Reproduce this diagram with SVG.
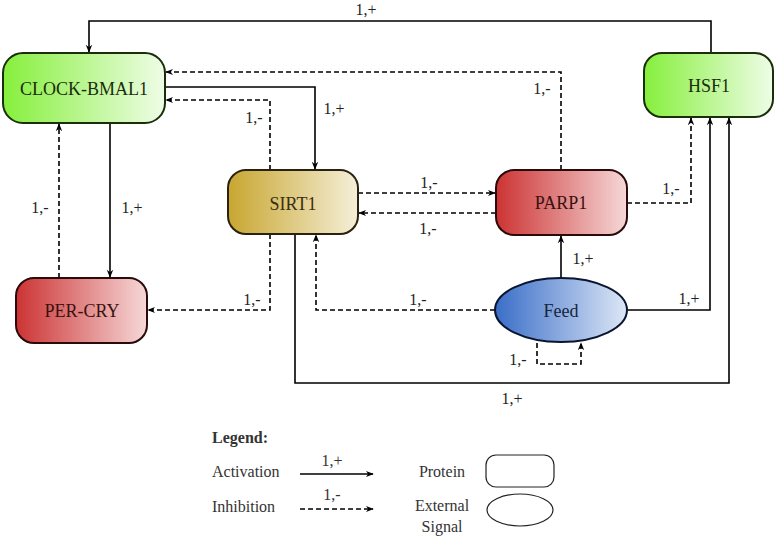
<svg xmlns="http://www.w3.org/2000/svg" width="777" height="538" viewBox="0 0 777 538">
<style>
.node text{font-family:"Liberation Serif","Times New Roman",Tinos,"DejaVu Serif","Noto Serif",FreeSerif,serif;font-size:18px;text-anchor:middle;dominant-baseline:central}
.lbl{font-family:"Liberation Serif","Times New Roman",Tinos,"DejaVu Serif","Noto Serif",FreeSerif,serif;font-size:16px;fill:#222}
.solid{fill:none;stroke:#000;stroke-width:1.6;marker-end:url(#arr)}
.dash{fill:none;stroke:#000;stroke-width:1.6;stroke-dasharray:5,3;marker-end:url(#arr)}
.leg{font-family:"Liberation Serif","Times New Roman",Tinos,"DejaVu Serif","Noto Serif",FreeSerif,serif;font-size:16px;fill:#333}
</style>
<defs>
<marker id="arr" viewBox="0 0 10 10" refX="9" refY="5" markerWidth="8" markerHeight="8" markerUnits="userSpaceOnUse" orient="auto">
<path d="M0,1 L10,5 L0,9 L3,5 Z" fill="#000"/>
</marker>
<linearGradient id="gGreen" x1="0" y1="0" x2="1" y2="0"><stop offset="0" stop-color="#86ef3c"/><stop offset="1" stop-color="#effde7"/></linearGradient>
<linearGradient id="gGold" x1="0" y1="0" x2="1" y2="0"><stop offset="0" stop-color="#c8a630"/><stop offset="1" stop-color="#f5efd8"/></linearGradient>
<linearGradient id="gRed" x1="0" y1="0" x2="1" y2="0"><stop offset="0" stop-color="#cc3333"/><stop offset="1" stop-color="#f6d8d8"/></linearGradient>
<linearGradient id="gBlue" x1="0" y1="0" x2="1" y2="0"><stop offset="0" stop-color="#3a6ec8"/><stop offset="1" stop-color="#dde7f6"/></linearGradient>
</defs>
<rect width="777" height="538" fill="#fff"/>

<g id="connectors">
<path class="solid" d="M711,53 V21 H89 V52"/>
<text class="lbl" x="366" y="15" text-anchor="middle">1,+</text>
<path class="dash" d="M561,170 V72 H166"/>
<text class="lbl" x="542" y="94" text-anchor="middle">1,-</text>
<path class="solid" d="M165,87 H315 V169"/>
<text class="lbl" x="334" y="114" text-anchor="middle">1,+</text>
<path class="dash" d="M270,170 V100 H166"/>
<text class="lbl" x="254" y="123" text-anchor="middle">1,-</text>
<path class="dash" d="M358,193 H495"/>
<text class="lbl" x="429" y="188" text-anchor="middle">1,-</text>
<path class="dash" d="M496,213 H359"/>
<text class="lbl" x="428" y="234" text-anchor="middle">1,-</text>
<path class="dash" d="M627,203 H691 V118"/>
<text class="lbl" x="671" y="194" text-anchor="middle">1,-</text>
<path class="solid" d="M627,310 H710 V118"/>
<text class="lbl" x="689" y="304" text-anchor="middle">1,+</text>
<path class="solid" d="M295,234 V383 H729 V118"/>
<text class="lbl" x="512" y="404" text-anchor="middle">1,+</text>
<path class="solid" d="M561,278 V236"/>
<text class="lbl" x="583" y="264" text-anchor="middle">1,+</text>
<path class="dash" d="M495,310 H316 V235"/>
<text class="lbl" x="418" y="305" text-anchor="middle">1,-</text>
<path class="dash" d="M537,343 V364 H581 V343"/>
<text class="lbl" x="518" y="365" text-anchor="middle">1,-</text>
<path class="dash" d="M270,234 V310 H148"/>
<text class="lbl" x="252" y="305" text-anchor="middle">1,-</text>
<path class="solid" d="M110,123 V277"/>
<text class="lbl" x="132" y="213" text-anchor="middle">1,+</text>
<path class="dash" d="M59,278 V124"/>
<text class="lbl" x="40" y="213" text-anchor="middle">1,-</text>
</g>

<g id="CLOCK-BMAL1" class="node">
<rect x="3" y="53" width="162" height="70" rx="20" fill="url(#gGreen)" stroke="#1a2e0a" stroke-width="2"/>
<text x="84" y="89" fill="#1a2e0a">CLOCK-BMAL1</text>
</g>
<g id="HSF1" class="node">
<rect x="644" y="53" width="129" height="64" rx="18" fill="url(#gGreen)" stroke="#1a2e0a" stroke-width="2"/>
<text x="709" y="86" fill="#1a2e0a">HSF1</text>
</g>
<g id="SIRT1" class="node">
<rect x="228" y="170" width="130" height="64" rx="18" fill="url(#gGold)" stroke="#2a2210" stroke-width="2"/>
<text x="293" y="204" fill="#3a2e10">SIRT1</text>
</g>
<g id="PARP1" class="node">
<rect x="496" y="170" width="131" height="65" rx="18" fill="url(#gRed)" stroke="#2a0a0a" stroke-width="2"/>
<text x="561" y="203" fill="#3a1010">PARP1</text>
</g>
<g id="PER-CRY" class="node">
<rect x="16" y="278" width="131" height="65" rx="18" fill="url(#gRed)" stroke="#2a0a0a" stroke-width="2"/>
<text x="82" y="311" fill="#3a1010">PER-CRY</text>
</g>
<g id="Feed" class="node">
<ellipse cx="561" cy="310" rx="66" ry="32" fill="url(#gBlue)" stroke="#0a1530" stroke-width="2"/>
<text x="561" y="311" fill="#152540">Feed</text>
</g>

<g id="legend">
<text class="leg" x="212" y="443" font-weight="bold">Legend:</text>
<text class="leg" x="212" y="477">Activation</text>
<path class="solid" d="M300,474 H373"/>
<text class="leg" x="332" y="466" text-anchor="middle">1,+</text>
<text class="leg" x="212" y="512">Inhibition</text>
<path class="dash" d="M300,509 H373"/>
<text class="leg" x="332" y="500" text-anchor="middle">1,-</text>
<text class="leg" x="442" y="477" text-anchor="middle">Protein</text>
<rect x="486" y="455" width="68" height="32" rx="10" fill="none" stroke="#222" stroke-width="1.2"/>
<text class="leg" x="442" y="511" text-anchor="middle">External</text>
<text class="leg" x="442" y="532" text-anchor="middle">Signal</text>
<ellipse cx="520" cy="510" rx="33" ry="16" fill="none" stroke="#222" stroke-width="1.2"/>
</g>
</svg>
